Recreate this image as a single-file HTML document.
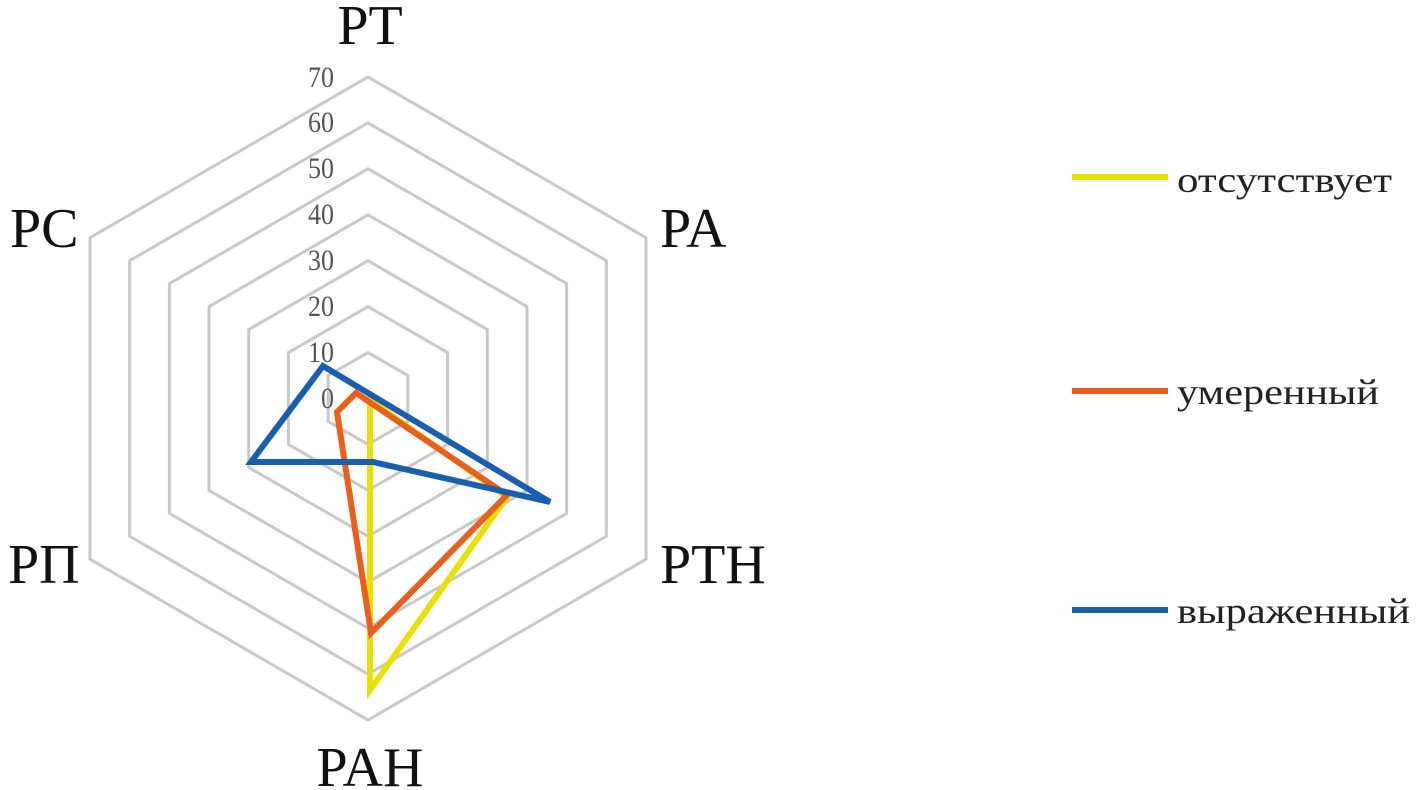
<!DOCTYPE html>
<html><head><meta charset="utf-8"><style>html,body{margin:0;padding:0;background:#fff;}svg{display:block}</style></head>
<body>
<svg width="1417" height="790" viewBox="0 0 1417 790" xmlns="http://www.w3.org/2000/svg" font-family="'Liberation Serif', serif">
<g fill="none" stroke="#c8c8c8" stroke-width="3">
<polygon points="368,77 646,237.7 646,559.2 368,720 90,559.2 90,237.7"/>
<polygon points="368,122.9 606.3,260.7 606.3,536.3 368,674.1 129.7,536.3 129.7,260.7"/>
<polygon points="368,168.8 566.6,283.6 566.6,513.4 368,628.2 169.4,513.4 169.4,283.6"/>
<polygon points="368,214.8 527,306.6 527,490.4 368,582.2 209,490.4 209,306.6"/>
<polygon points="368,260.7 487.3,329.6 487.3,467.4 368,536.3 248.7,467.4 248.7,329.6"/>
<polygon points="368,306.6 447.6,352.6 447.6,444.4 368,490.4 288.4,444.4 288.4,352.6"/>
<polygon points="368,352.6 407.8,375.5 407.8,421.5 368,444.4 328.2,421.5 328.2,375.5"/>
</g>
<g fill="#555" font-size="30" text-anchor="end">
<text x="334" y="87" textLength="26" lengthAdjust="spacingAndGlyphs">70</text>
<text x="334" y="132" textLength="26" lengthAdjust="spacingAndGlyphs">60</text>
<text x="334" y="178" textLength="26" lengthAdjust="spacingAndGlyphs">50</text>
<text x="334" y="224" textLength="26" lengthAdjust="spacingAndGlyphs">40</text>
<text x="334" y="270" textLength="26" lengthAdjust="spacingAndGlyphs">30</text>
<text x="334" y="316" textLength="26" lengthAdjust="spacingAndGlyphs">20</text>
<text x="334" y="362" textLength="26" lengthAdjust="spacingAndGlyphs">10</text>
<text x="334" y="408" textLength="13" lengthAdjust="spacingAndGlyphs">0</text>
</g>
<g fill="none" stroke-width="6" stroke-linejoin="miter">
<polygon points="370,400 370,690 507,497" stroke="#e8e000"/>
<polygon points="356,393 337,412 371,633 507,495" stroke="#e8601c"/>
<polygon points="323,366 251,462 373,462 550,502" stroke="#1a5fae"/>
</g>
<g fill="#111" font-size="56">
<text x="370" y="44" text-anchor="middle">PT</text>
<text x="660" y="247">PA</text>
<text x="10" y="247">PC</text>
<text x="8" y="583">PП</text>
<text x="660" y="583">PTH</text>
<text x="370" y="786" text-anchor="middle">PAH</text>
</g>
<g stroke-width="6">
<line x1="1072" y1="177" x2="1168" y2="177" stroke="#e8e000"/>
<line x1="1072" y1="391" x2="1168" y2="391" stroke="#e8601c"/>
<line x1="1072" y1="610" x2="1168" y2="610" stroke="#1a5fae"/>
</g>
<g fill="#222" font-size="36">
<text x="1177" y="192" textLength="215" lengthAdjust="spacingAndGlyphs">отсутствует</text>
<text x="1177" y="404" textLength="202" lengthAdjust="spacingAndGlyphs">умеренный</text>
<text x="1177" y="623" textLength="233" lengthAdjust="spacingAndGlyphs">выраженный</text>
</g>
</svg>
</body></html>
